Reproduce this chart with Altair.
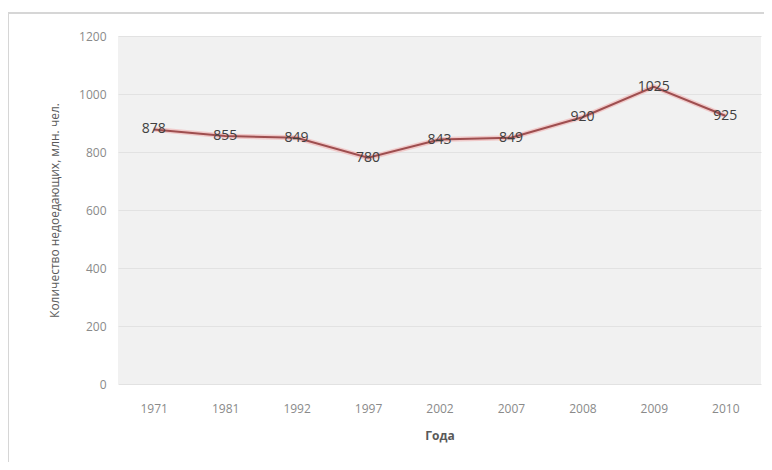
import altair as alt
import pandas as pd

years = ["1971", "1981", "1992", "1997", "2002", "2007", "2008", "2009", "2010"]
values = [878, 855, 849, 780, 843, 849, 920, 1025, 925]

df = pd.DataFrame({"year": years, "value": values})

FONT = "Open Sans"

x_enc = alt.X("year:N", sort=None, title="Года",
              axis=alt.Axis(labelAngle=0, labelColor="#8a8a8a", labelFontSize=12,
                            labelPadding=19, titleColor="#595959", titleFontSize=12,
                            titleFontWeight="bold", titlePadding=16, domain=False,
                            ticks=False, grid=False, labelFont=FONT, titleFont=FONT))
y_enc = alt.Y("value:Q", title="Количество недоедающих, млн. чел.",
              scale=alt.Scale(domain=[0, 1200]),
              axis=alt.Axis(values=[0, 200, 400, 600, 800, 1000, 1200], format="d",
                            labelColor="#8a8a8a", labelFontSize=12, labelPadding=12,
                            titleColor="#595959", titleFontSize=12, titleFontWeight="normal",
                            titlePadding=17, domain=False, ticks=False,
                            gridColor="#e2e2e2", gridWidth=1,
                            labelFont=FONT, titleFont=FONT))

base = alt.Chart(df).encode(x=x_enc, y=y_enc)

glow = base.mark_line(color="#f0c0c0", strokeWidth=5, opacity=0.8)
line = base.mark_line(color="#9e4e4f", strokeWidth=2)
labels = base.mark_text(color="#404040", fontSize=14, font=FONT,
                        align="center", baseline="middle").encode(text="value:Q")

frame_left = alt.Chart(df).mark_rule(color="#d6d6d6", strokeWidth=1.5).encode(
    x=alt.value(-110), y=alt.value(-24), y2=alt.value(460))
frame_top = alt.Chart(df).mark_rule(color="#d6d6d6", strokeWidth=1.5).encode(
    x=alt.value(-110), x2=alt.value(680), y=alt.value(-23))

chart = alt.layer(frame_left, frame_top, glow, line, labels).properties(
    width=643, height=348,
    autosize=alt.AutoSizeParams(type="none"),
    padding={"left": 110, "top": 28, "right": 3, "bottom": 78},
    background="white",
).configure_view(fill="#f1f1f1", stroke=None)

chart.save("out.html", embed_options={"renderer": "svg", "actions": False})
